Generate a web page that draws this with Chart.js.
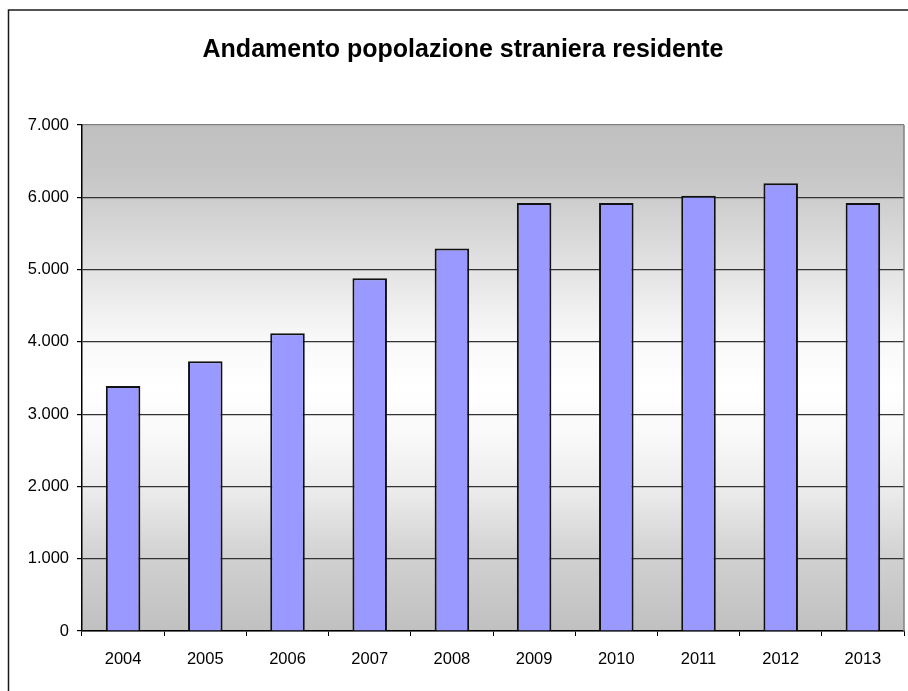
<!DOCTYPE html>
<html>
<head>
<meta charset="utf-8">
<script src="https://cdn.jsdelivr.net/npm/chart.js@4.4.1/dist/chart.umd.min.js"></script>
<style>
  html, body { margin: 0; padding: 0; background: #ffffff; }
  #wrap { width: 908px; height: 691px; position: relative; }
</style>
</head>
<body>
<div id="wrap"><canvas id="popChart" width="908" height="691"></canvas></div>
<script>
// dati
const years = ['2004', '2005', '2006', '2007', '2008', '2009', '2010', '2011', '2012', '2013'];
const residents = [3390, 3730, 4120, 4880, 5290, 5920, 5920, 6020, 6195, 5920];
const yTicks = [0, 1000, 2000, 3000, 4000, 5000, 6000, 7000];
const chartTitle = 'Andamento popolazione straniera residente';

function formatIt(v) {
    return String(v).replace(/\B(?=(\d{3})+(?!\d))/g, '.');
}

// gray -> white -> gray background and the outer frame
const backdrop = {
    id: 'backdrop',
    beforeDraw(chart) {
        const { ctx, chartArea: a } = chart;
        const g = ctx.createLinearGradient(0, a.top, 0, a.bottom);
        g.addColorStop(0, '#c0c0c0');
        g.addColorStop(0.1, '#c6c6c6');
        g.addColorStop(0.28, '#e2e2e2');
        g.addColorStop(0.42, '#f8f8f8');
        g.addColorStop(0.52, '#ffffff');
        g.addColorStop(0.62, '#f8f8f8');
        g.addColorStop(0.72, '#ececec');
        g.addColorStop(0.86, '#d0d0d0');
        g.addColorStop(1, '#c0c0c0');
        ctx.save();
        ctx.fillStyle = g;
        ctx.fillRect(a.left, a.top, a.right - a.left, a.bottom - a.top);
        ctx.restore();
    },
    afterDraw(chart) {
        const { ctx, chartArea: a } = chart;
        ctx.save();
        // right edge of plot area
        ctx.strokeStyle = '#808080';
        ctx.lineWidth = 1.5;
        ctx.beginPath();
        ctx.moveTo(a.right, a.top);
        ctx.lineTo(a.right, a.bottom);
        ctx.stroke();
        // outer frame (left and top only visible)
        ctx.strokeStyle = '#1a1a1a';
        ctx.lineWidth = 1.5;
        ctx.beginPath();
        ctx.moveTo(8.5, chart.height);
        ctx.lineTo(8.5, 10);
        ctx.lineTo(chart.width, 10);
        ctx.stroke();
        ctx.restore();
    }
};

const tickFont = { family: '"Liberation Sans", Arial, sans-serif', size: 16.5 };

const ctx = document.getElementById('popChart').getContext('2d');
const chart = new Chart(ctx, {
    type: 'bar',
    data: {
        labels: years,
        datasets: [{
            label: 'Popolazione straniera',
            data: residents,
            backgroundColor: '#9999ff',
            borderColor: '#111111',
            borderWidth: 2,
            barPercentage: 0.42,
            categoryPercentage: 1
        }]
    },
    options: {
        responsive: false,
        animation: false,
        layout: { padding: { left: 22, right: 4, top: 0, bottom: 0 } },
        plugins: {
            legend: { display: false },
            tooltip: { enabled: false },
            title: {
                display: true,
                text: chartTitle,
                color: '#000000',
                font: { family: '"Liberation Sans", Arial, sans-serif', size: 25, weight: 'bold' },
                padding: { top: 35, bottom: 60 }
            }
        },
        scales: {
            x: {
                grid: { drawOnChartArea: false, drawTicks: true, tickLength: 5, color: '#000000', offset: true },
                border: { color: '#000000', width: 1.5 },
                ticks: {
                    color: '#000000',
                    padding: 14,
                    font: tickFont
                },
                afterFit(scale) { scale.height = 60; }
            },
            y: {
                min: 0,
                max: 7000,
                afterBuildTicks(scale) { scale.ticks = yTicks.map(v => ({ value: v })); },
                grid: {
                    color: c => (c.tick && c.tick.value === 7000) ? '#808080' : '#333333',
                    lineWidth: 1.2,
                    tickLength: 5,
                    tickColor: '#000000'
                },
                border: { color: '#000000', width: 1.5 },
                ticks: {
                    color: '#000000',
                    padding: 8,
                    font: tickFont,
                    callback: v => formatIt(v)
                },
                afterFit(scale) { scale.width = 60; }
            }
        }
    },
    plugins: [backdrop]
});
</script>
</body>
</html>
